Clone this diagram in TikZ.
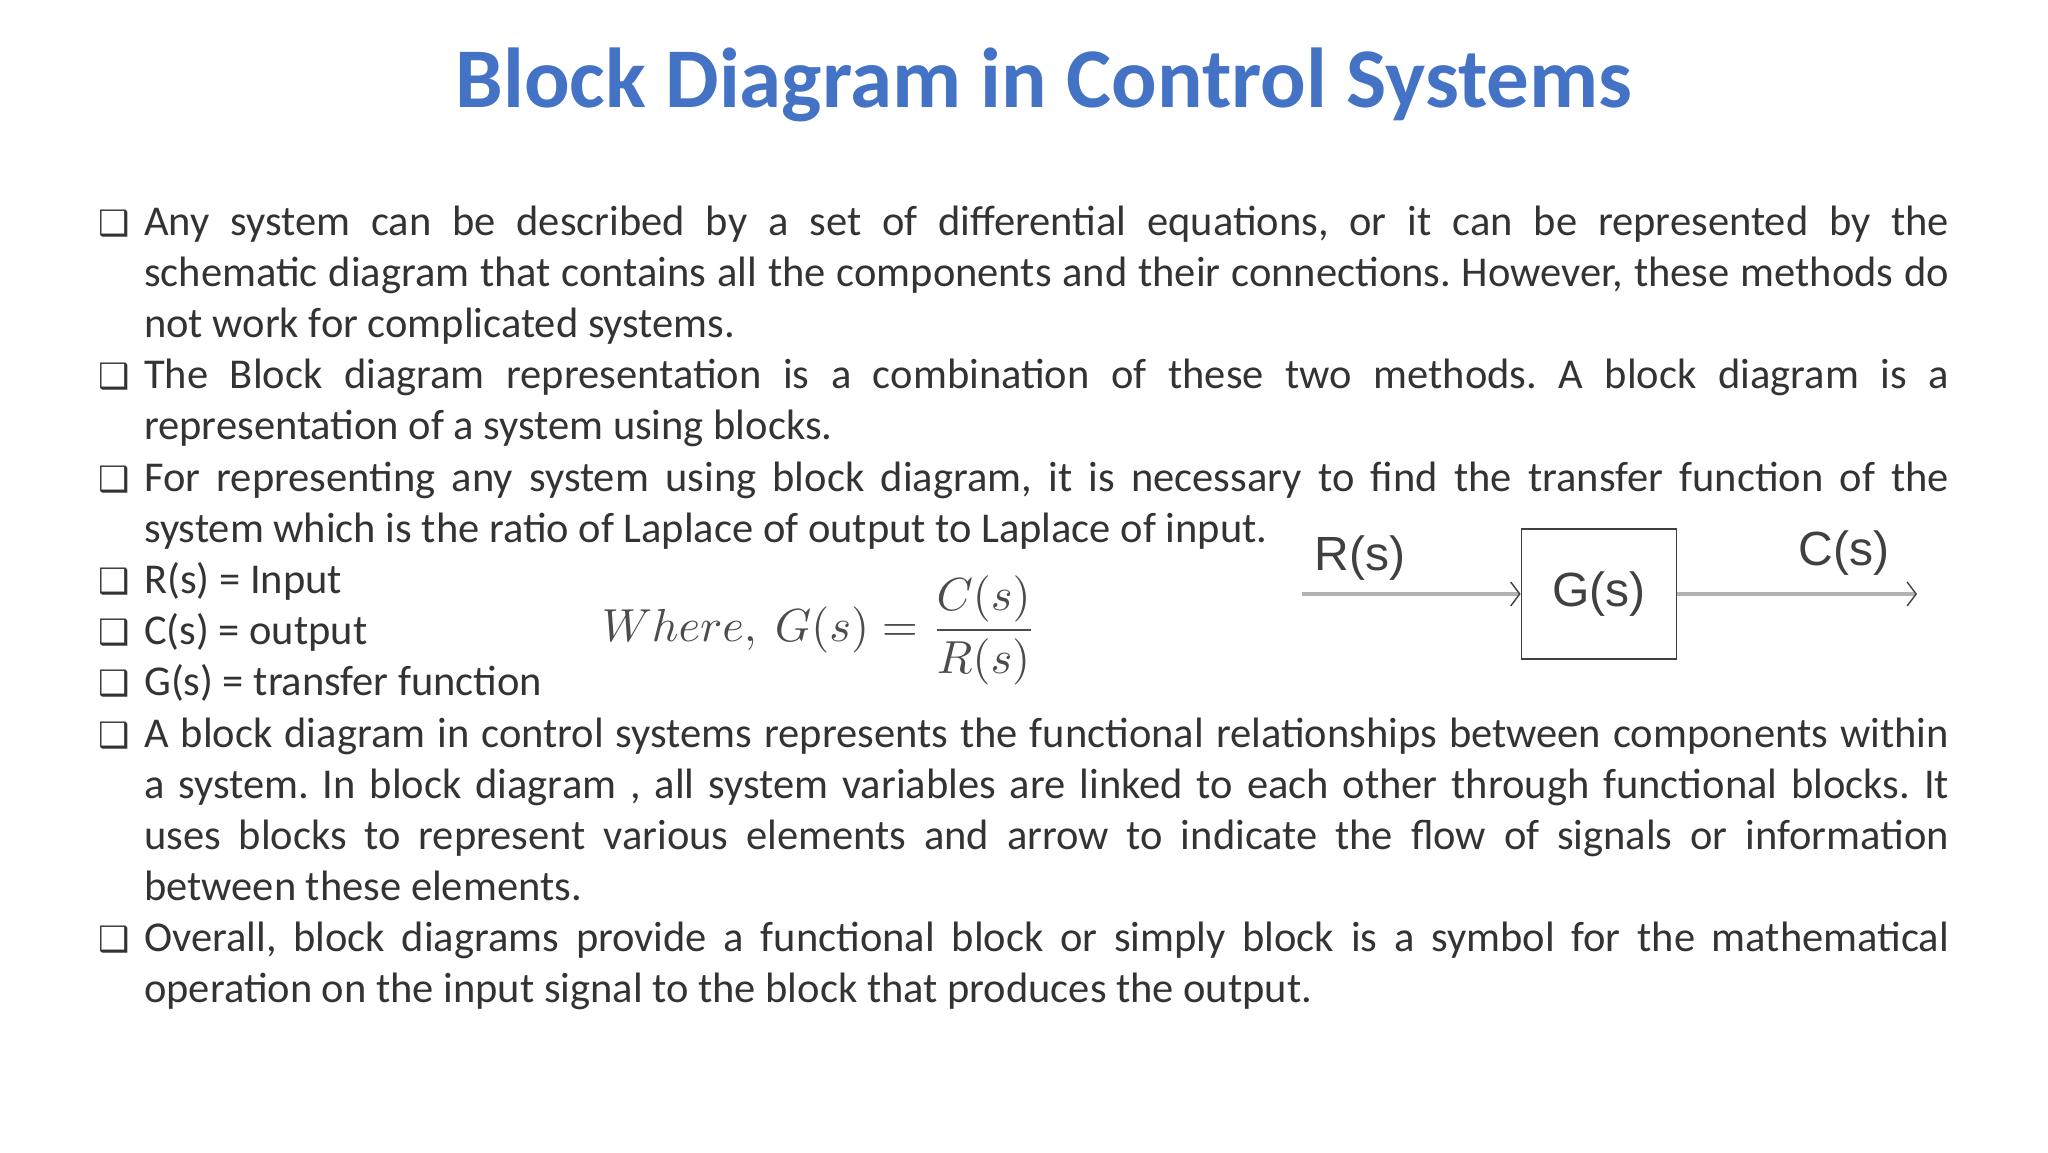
\documentclass[tikz,border=0pt]{standalone}
\usepackage{fontspec}
\setmainfont{Carlito}
\newfontfamily\dejavu{DejaVu Sans}
\newfontfamily\arialf{Liberation Sans}
\usetikzlibrary{arrows.meta}
\definecolor{titleblue}{HTML}{4472C4}
\definecolor{txt}{HTML}{333333}
\frenchspacing
\tikzset{x=1bp,y=-1bp,
  bul/.style={anchor=base west,inner sep=0,text=txt,font=\dejavu\fontsize{35bp}{35bp}\selectfont},
  para/.style={anchor=base west,inner sep=0,text=txt,align=justify,text width=1805bp,font=\fontsize{42.5bp}{51.1bp}\selectfont},
  lbl/.style={inner sep=0,text=black!75,font=\arialf\fontsize{48bp}{48bp}\selectfont},
  sig/.style={draw=black!30,line width=3.5bp,-{Straight Barb[length=9bp,width=24bp,line width=1.4bp,color=black!75]}}}
\begin{document}
\begin{tikzpicture}
\useasboundingbox (0,0) rectangle (2048,1152);
\node[inner sep=0,anchor=base,text=titleblue,font=\bfseries\fontsize{85bp}{85bp}\selectfont] (title) at (1044,107) {Block Diagram in Control Systems};
\foreach \y in {235,388,491,593,644,695,747,951} \node[bul] at (98,\y) {❑};
\node[para] (p1) at (144,235) {Any system can be described by a set of differential equations, or it can be represented by the schematic diagram that contains all the components and their connections. However, these methods do\linebreak not work for complicated systems.};
\node[para] (p2) at (144,388) {The Block diagram representation is a combination of these two methods. A block diagram is a\linebreak representation of a system using blocks.};
\node[para] (p3) at (144,491) {For representing any system using block diagram, it is necessary to find the transfer function of the\linebreak system which is the ratio of Laplace of output to Laplace of input.};
\node[para] (p4) at (144,593) {R(s) = Input};
\node[para] (p5) at (144,644) {C(s) = output};
\node[para] (p6) at (144,695) {G(s) = transfer function};
\node[para] (p7) at (144,747) {A block diagram in control systems represents the functional relationships between components within\linebreak a system. In block diagram , all system variables are linked to each other through functional blocks. It\linebreak uses blocks to represent various elements and arrow to indicate the flow of signals or information\linebreak between these elements.};
\node[para] (p8) at (144,951) {Overall, block diagrams provide a functional block or simply block is a symbol for the mathematical\linebreak operation on the input signal to the block that produces the output.};
\node[inner sep=0,text=black!70,scale=4.65] (eq) at (819,630) {$\displaystyle Where,\ G(s)=\frac{C(s)}{R(s)}$};
\node[draw=black!75,line width=1.8bp,minimum width=155bp,minimum height=130bp,inner sep=0] (G) at (1599,594) {};
\node[lbl] at (G) {G(s)};
\coordinate (in) at (1302,594);
\coordinate (out) at (1917,594);
\draw[sig] (in) -- (G.west);
\draw[sig] (G.east) -- (out);
\node[lbl] (R) at (1360,558) {R(s)};
\node[lbl] (C) at (1844,553) {C(s)};
\end{tikzpicture}
\end{document}
